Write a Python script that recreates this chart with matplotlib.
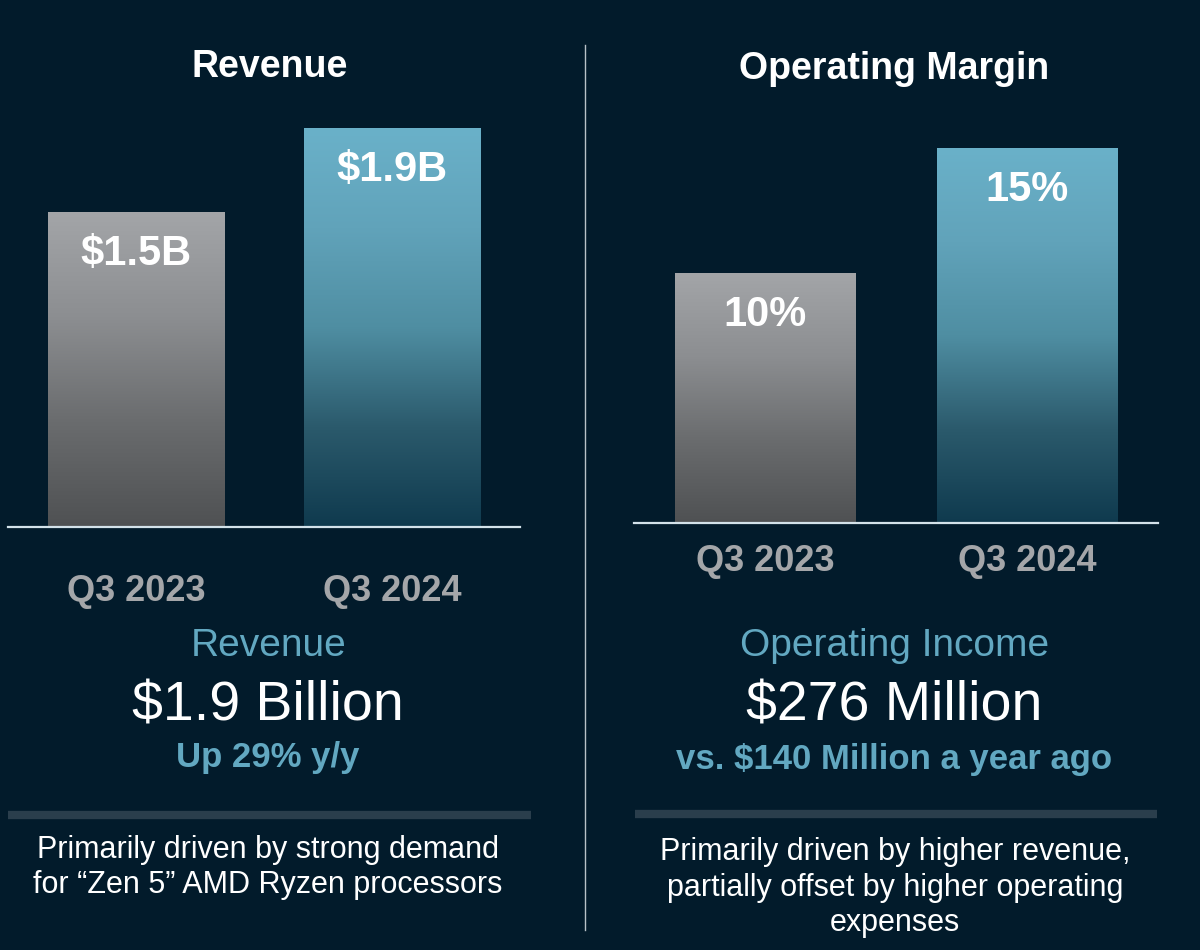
import numpy as np
import matplotlib
matplotlib.use("Agg")
import matplotlib.pyplot as plt
from matplotlib.colors import LinearSegmentedColormap

plt.rcParams['font.family'] = ['Liberation Sans', 'DejaVu Sans']

# data
quarters = ["Q3 2023", "Q3 2024"]
revenue = [1.5, 1.9]
revenue_labels = ["$1.5B", "$1.9B"]
margin = [10, 15]
margin_labels = ["10%", "15%"]

bg = "#021b2b"
teal_txt = "#62a8c1"
tick_gray = "#a4a6a9"

gray_cm = LinearSegmentedColormap.from_list("g", ["#4f5153", "#6a6c6e", "#8c8e91", "#a3a5a8"])
teal_cm = LinearSegmentedColormap.from_list("t", ["#0f3a4e", "#2b5a6c", "#4f8ea2", "#61a3ba", "#6ab1c9"])

fig = plt.figure(figsize=(12, 9.5), dpi=100, facecolor=bg)
W, H = 1200, 950


def px_axes(x0, x1, ytop, ybot):
    return fig.add_axes([x0 / W, (H - ybot) / H, (x1 - x0) / W, (ybot - ytop) / H])


def gradient_bars(ax, values, labels, top_px, bar_px, pad):
    ymax = max(values) * top_px / bar_px
    bars = ax.bar(range(len(values)), values, width=0.69, color="none", zorder=2)
    grad = np.linspace(0, 1, 256).reshape(-1, 1)
    for b, cm in zip(bars, [gray_cm, teal_cm]):
        x0 = b.get_x()
        im = ax.imshow(grad, extent=[x0, x0 + b.get_width(), 0, b.get_height()],
                       origin="lower", aspect="auto", cmap=cm, zorder=1)
        im.set_clip_path(b)
    for i, (v, lab) in enumerate(zip(values, labels)):
        ax.annotate(lab, xy=(i, v), xytext=(0, -30), textcoords="offset points",
                    ha="center", va="center", color="white", fontsize=30, fontweight="bold")
    ax.set_xlim(-0.5, 1.5)
    ax.set_ylim(0, ymax)
    ax.set_facecolor("none")
    for s in ["top", "left", "right"]:
        ax.spines[s].set_visible(False)
    ax.spines["bottom"].set_color("#d3e2ea")
    ax.spines["bottom"].set_linewidth(1.6)
    ax.set_yticks([])
    ax.set_xticks(range(len(values)))
    ax.set_xticklabels(quarters, fontsize=26, fontweight="bold", color=tick_gray)
    ax.tick_params(axis="x", length=0, pad=pad)


ax1 = px_axes(8, 520, 100, 527)
gradient_bars(ax1, revenue, revenue_labels, 427, 399, 34)

ax2 = px_axes(634, 1158, 100, 523)
gradient_bars(ax2, margin, margin_labels, 423, 375, 15)

# divider
fig.add_artist(plt.Line2D([585 / W, 585 / W], [1 - 45 / H, 1 - 930 / H], color="#b8c2c8", lw=1.0))


def t(x, y, s, **kw):
    fig.text(x / W, 1 - (y + 3) / H, s, ha="center", va="center", **kw)


t(270, 64, "Revenue", color="white", fontsize=27, fontweight="bold")
t(894, 66, "Operating Margin", color="white", fontsize=27, fontweight="bold")

t(269, 643, "Revenue", color=teal_txt, fontsize=28)
t(268, 703, "$1.9 Billion", color="white", fontsize=40)
t(268, 755, "Up 29% y/y", color=teal_txt, fontsize=25, fontweight="bold")

t(895, 643, "Operating Income", color=teal_txt, fontsize=28)
t(894, 703, "$276 Million", color="white", fontsize=40)
t(894, 756, "vs. $140 Million a year ago", color=teal_txt, fontsize=25, fontweight="bold")

# separators
fig.add_artist(plt.Line2D([8 / W, 531 / W], [1 - 815 / H] * 2, color="#2a3e4c", lw=6, solid_capstyle="butt"))
fig.add_artist(plt.Line2D([635 / W, 1157 / W], [1 - 814 / H] * 2, color="#2a3e4c", lw=6, solid_capstyle="butt"))

t(268, 847, "Primarily driven by strong demand", color="white", fontsize=22)
t(268, 882, "for \u201cZen 5\u201d AMD Ryzen processors", color="white", fontsize=22)
t(895, 849, "Primarily driven by higher revenue,", color="white", fontsize=22)
t(895, 885, "partially offset by higher operating", color="white", fontsize=22)
t(895, 920, "expenses", color="white", fontsize=22)

fig.savefig("out.png", dpi=100, facecolor=bg)
